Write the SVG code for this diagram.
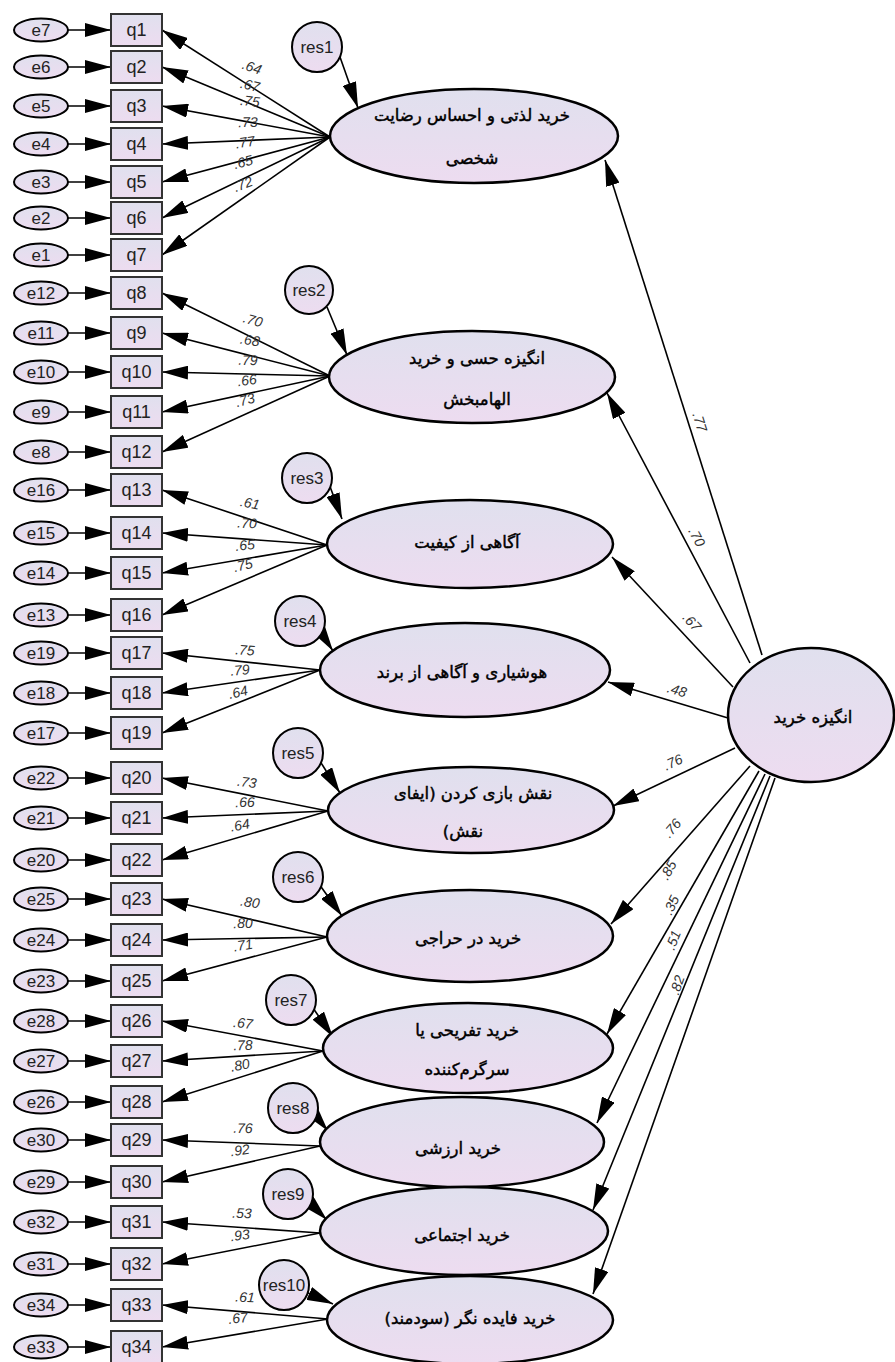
<svg xmlns="http://www.w3.org/2000/svg" width="895" height="1362" viewBox="0 0 895 1362">
<defs>
<linearGradient id="g" x1="0" y1="0" x2="0" y2="1"><stop offset="0" stop-color="#e0e0ee"/><stop offset="1" stop-color="#eddcf0"/></linearGradient>
<marker id="ah" markerUnits="userSpaceOnUse" markerWidth="26" markerHeight="14" refX="26" refY="7" orient="auto"><path d="M0,0 L26,7 L0,14 z" fill="#000"/></marker>
<style>
.lat{fill:url(#g);stroke:#000;stroke-width:2.5}
.obs{fill:url(#g);stroke:#333;stroke-width:2}
.err{fill:url(#g);stroke:#000;stroke-width:2}
.ln{stroke:#000;stroke-width:1.6;fill:none;marker-end:url(#ah)}
.t{font-family:"Liberation Sans",Arial,sans-serif;font-size:18px;fill:#222;text-anchor:middle;dominant-baseline:central}
.et{font-size:17px}
.ld{font-family:"Liberation Sans",Arial,sans-serif;font-size:14px;font-style:italic;fill:#333;text-anchor:middle;dominant-baseline:central}
.fa{font-family:"DejaVu Sans",sans-serif;font-size:16.5px;fill:#000;stroke:#000;stroke-width:0.45;text-anchor:middle;dominant-baseline:central;direction:rtl}
</style>
</defs>
<rect width="895" height="1362" fill="#fff"/>

<g id="connectors">
<line class="ln" x1="68" y1="30" x2="111" y2="30"/>
<line class="ln" x1="68" y1="67" x2="111" y2="67"/>
<line class="ln" x1="68" y1="106" x2="111" y2="106"/>
<line class="ln" x1="68" y1="144" x2="111" y2="144"/>
<line class="ln" x1="68" y1="182" x2="111" y2="182"/>
<line class="ln" x1="68" y1="218" x2="111" y2="218"/>
<line class="ln" x1="68" y1="255" x2="111" y2="255"/>
<line class="ln" x1="68" y1="293" x2="111" y2="293"/>
<line class="ln" x1="68" y1="333" x2="111" y2="333"/>
<line class="ln" x1="68" y1="372" x2="111" y2="372"/>
<line class="ln" x1="68" y1="412" x2="111" y2="412"/>
<line class="ln" x1="68" y1="452" x2="111" y2="452"/>
<line class="ln" x1="68" y1="490" x2="111" y2="490"/>
<line class="ln" x1="68" y1="533" x2="111" y2="533"/>
<line class="ln" x1="68" y1="573" x2="111" y2="573"/>
<line class="ln" x1="68" y1="615" x2="111" y2="615"/>
<line class="ln" x1="68" y1="653" x2="111" y2="653"/>
<line class="ln" x1="68" y1="693" x2="111" y2="693"/>
<line class="ln" x1="68" y1="733" x2="111" y2="733"/>
<line class="ln" x1="68" y1="778" x2="111" y2="778"/>
<line class="ln" x1="68" y1="818" x2="111" y2="818"/>
<line class="ln" x1="68" y1="860" x2="111" y2="860"/>
<line class="ln" x1="68" y1="899" x2="111" y2="899"/>
<line class="ln" x1="68" y1="940" x2="111" y2="940"/>
<line class="ln" x1="68" y1="981" x2="111" y2="981"/>
<line class="ln" x1="68" y1="1021" x2="111" y2="1021"/>
<line class="ln" x1="68" y1="1061" x2="111" y2="1061"/>
<line class="ln" x1="68" y1="1102" x2="111" y2="1102"/>
<line class="ln" x1="68" y1="1140" x2="111" y2="1140"/>
<line class="ln" x1="68" y1="1182" x2="111" y2="1182"/>
<line class="ln" x1="68" y1="1222" x2="111" y2="1222"/>
<line class="ln" x1="68" y1="1264" x2="111" y2="1264"/>
<line class="ln" x1="68" y1="1305" x2="111" y2="1305"/>
<line class="ln" x1="68" y1="1347" x2="111" y2="1347"/>
<line class="ln" x1="330" y1="137" x2="162" y2="30"/>
<line class="ln" x1="330" y1="137" x2="162" y2="67"/>
<line class="ln" x1="330" y1="137" x2="162" y2="106"/>
<line class="ln" x1="330" y1="137" x2="162" y2="144"/>
<line class="ln" x1="330" y1="137" x2="162" y2="182"/>
<line class="ln" x1="330" y1="137" x2="162" y2="218"/>
<line class="ln" x1="330" y1="137" x2="162" y2="255"/>
<line class="ln" x1="330" y1="376" x2="162" y2="293"/>
<line class="ln" x1="330" y1="376" x2="162" y2="333"/>
<line class="ln" x1="330" y1="376" x2="162" y2="372"/>
<line class="ln" x1="330" y1="376" x2="162" y2="412"/>
<line class="ln" x1="330" y1="376" x2="162" y2="452"/>
<line class="ln" x1="327" y1="545" x2="162" y2="490"/>
<line class="ln" x1="327" y1="545" x2="162" y2="533"/>
<line class="ln" x1="327" y1="545" x2="162" y2="573"/>
<line class="ln" x1="327" y1="545" x2="162" y2="615"/>
<line class="ln" x1="320" y1="670" x2="162" y2="653"/>
<line class="ln" x1="320" y1="670" x2="162" y2="693"/>
<line class="ln" x1="320" y1="670" x2="162" y2="733"/>
<line class="ln" x1="328" y1="811" x2="162" y2="778"/>
<line class="ln" x1="328" y1="811" x2="162" y2="818"/>
<line class="ln" x1="328" y1="811" x2="162" y2="860"/>
<line class="ln" x1="327" y1="937" x2="162" y2="899"/>
<line class="ln" x1="327" y1="937" x2="162" y2="940"/>
<line class="ln" x1="327" y1="937" x2="162" y2="981"/>
<line class="ln" x1="323" y1="1051" x2="162" y2="1021"/>
<line class="ln" x1="323" y1="1051" x2="162" y2="1061"/>
<line class="ln" x1="323" y1="1051" x2="162" y2="1102"/>
<line class="ln" x1="320" y1="1146" x2="162" y2="1140"/>
<line class="ln" x1="320" y1="1146" x2="162" y2="1182"/>
<line class="ln" x1="320" y1="1233" x2="162" y2="1222"/>
<line class="ln" x1="320" y1="1233" x2="162" y2="1264"/>
<line class="ln" x1="328" y1="1319" x2="162" y2="1305"/>
<line class="ln" x1="328" y1="1319" x2="162" y2="1347"/>
<line class="ln" x1="340" y1="57" x2="358" y2="108"/>
<line class="ln" x1="327" y1="307" x2="347" y2="355"/>
<line class="ln" x1="325" y1="473" x2="342" y2="519"/>
<line class="ln" x1="318" y1="628" x2="333" y2="651"/>
<line class="ln" x1="318" y1="758" x2="340" y2="793"/>
<line class="ln" x1="319" y1="884" x2="342" y2="916"/>
<line class="ln" x1="313" y1="1008" x2="333" y2="1037"/>
<line class="ln" x1="315" y1="1115" x2="328" y2="1131"/>
<line class="ln" x1="310" y1="1203" x2="327" y2="1220"/>
<line class="ln" x1="306" y1="1292" x2="333" y2="1304"/>
<line class="ln" x1="762" y1="655" x2="605" y2="160"/>
<line class="ln" x1="750" y1="663" x2="607" y2="393"/>
<line class="ln" x1="733" y1="687" x2="612" y2="557"/>
<line class="ln" x1="728" y1="718" x2="608" y2="682"/>
<line class="ln" x1="735" y1="748" x2="613" y2="806"/>
<line class="ln" x1="750" y1="766" x2="611" y2="924"/>
<line class="ln" x1="759" y1="771" x2="607" y2="1034"/>
<line class="ln" x1="765" y1="774" x2="597" y2="1123"/>
<line class="ln" x1="770" y1="776" x2="593" y2="1210"/>
<line class="ln" x1="775" y1="778" x2="593" y2="1294"/>
</g>

<g id="loadings">
<text class="ld" transform="translate(252,67) rotate(19)">.64</text>
<text class="ld" transform="translate(250,85) rotate(13)">.67</text>
<text class="ld" transform="translate(250,101) rotate(6)">.75</text>
<text class="ld" transform="translate(248,122) rotate(-1)">.73</text>
<text class="ld" transform="translate(245,142) rotate(-9)">.77</text>
<text class="ld" transform="translate(243,162) rotate(-15)">.65</text>
<text class="ld" transform="translate(243,184) rotate(-21)">.72</text>
<text class="ld" transform="translate(253,320) rotate(16)">.70</text>
<text class="ld" transform="translate(250,340) rotate(9)">.68</text>
<text class="ld" transform="translate(248,360) rotate(1)">.79</text>
<text class="ld" transform="translate(247,380) rotate(-7)">.66</text>
<text class="ld" transform="translate(245,400) rotate(-15)">.73</text>
<text class="ld" transform="translate(250,503) rotate(11)">.61</text>
<text class="ld" transform="translate(247,523) rotate(3)">.70</text>
<text class="ld" transform="translate(245,545) rotate(-6)">.65</text>
<text class="ld" transform="translate(243,565) rotate(-14)">.75</text>
<text class="ld" transform="translate(245,650) rotate(4)">.75</text>
<text class="ld" transform="translate(240,670) rotate(-5)">.79</text>
<text class="ld" transform="translate(238,692) rotate(-13)">.64</text>
<text class="ld" transform="translate(247,782) rotate(7)">.73</text>
<text class="ld" transform="translate(245,802) rotate(-1)">.66</text>
<text class="ld" transform="translate(240,825) rotate(-10)">.64</text>
<text class="ld" transform="translate(250,902) rotate(8)">.80</text>
<text class="ld" transform="translate(243,923) rotate(-1)">.80</text>
<text class="ld" transform="translate(243,945) rotate(-9)">.71</text>
<text class="ld" transform="translate(243,1023) rotate(6)">.67</text>
<text class="ld" transform="translate(243,1045) rotate(-2)">.78</text>
<text class="ld" transform="translate(240,1065) rotate(-11)">.80</text>
<text class="ld" transform="translate(243,1128) rotate(1)">.76</text>
<text class="ld" transform="translate(240,1150) rotate(-8)">.92</text>
<text class="ld" transform="translate(242,1213) rotate(2)">.53</text>
<text class="ld" transform="translate(240,1235) rotate(-7)">.93</text>
<text class="ld" transform="translate(245,1297) rotate(3)">.61</text>
<text class="ld" transform="translate(238,1318) rotate(-6)">.67</text>
<text class="ld" transform="translate(700,422) rotate(72)">.77</text>
<text class="ld" transform="translate(697,537) rotate(62)">.70</text>
<text class="ld" transform="translate(692,622) rotate(47)">.67</text>
<text class="ld" transform="translate(677,690) rotate(17)">.48</text>
<text class="ld" transform="translate(673,762) rotate(-25)">.76</text>
<text class="ld" transform="translate(672,828) rotate(-49)">.76</text>
<text class="ld" transform="translate(668,870) rotate(-60)">.85</text>
<text class="ld" transform="translate(671,905) rotate(-64)">.35</text>
<text class="ld" transform="translate(673,940) rotate(-68)">.51</text>
<text class="ld" transform="translate(677,985) rotate(-71)">.82</text>
</g>

<g id="e7"><ellipse class="err" cx="41" cy="30" rx="27" ry="11.5"/><text class="t et" x="41" y="30">e7</text></g>
<g id="q1"><rect class="obs" x="111" y="14" width="51" height="32"/><text class="t" x="136.5" y="30">q1</text></g>
<g id="e6"><ellipse class="err" cx="41" cy="67" rx="27" ry="11.5"/><text class="t et" x="41" y="67">e6</text></g>
<g id="q2"><rect class="obs" x="111" y="51" width="51" height="32"/><text class="t" x="136.5" y="67">q2</text></g>
<g id="e5"><ellipse class="err" cx="41" cy="106" rx="27" ry="11.5"/><text class="t et" x="41" y="106">e5</text></g>
<g id="q3"><rect class="obs" x="111" y="90" width="51" height="32"/><text class="t" x="136.5" y="106">q3</text></g>
<g id="e4"><ellipse class="err" cx="41" cy="144" rx="27" ry="11.5"/><text class="t et" x="41" y="144">e4</text></g>
<g id="q4"><rect class="obs" x="111" y="128" width="51" height="32"/><text class="t" x="136.5" y="144">q4</text></g>
<g id="e3"><ellipse class="err" cx="41" cy="182" rx="27" ry="11.5"/><text class="t et" x="41" y="182">e3</text></g>
<g id="q5"><rect class="obs" x="111" y="166" width="51" height="32"/><text class="t" x="136.5" y="182">q5</text></g>
<g id="e2"><ellipse class="err" cx="41" cy="218" rx="27" ry="11.5"/><text class="t et" x="41" y="218">e2</text></g>
<g id="q6"><rect class="obs" x="111" y="202" width="51" height="32"/><text class="t" x="136.5" y="218">q6</text></g>
<g id="e1"><ellipse class="err" cx="41" cy="255" rx="27" ry="11.5"/><text class="t et" x="41" y="255">e1</text></g>
<g id="q7"><rect class="obs" x="111" y="239" width="51" height="32"/><text class="t" x="136.5" y="255">q7</text></g>
<g id="e12"><ellipse class="err" cx="41" cy="293" rx="27" ry="11.5"/><text class="t et" x="41" y="293">e12</text></g>
<g id="q8"><rect class="obs" x="111" y="277" width="51" height="32"/><text class="t" x="136.5" y="293">q8</text></g>
<g id="e11"><ellipse class="err" cx="41" cy="333" rx="27" ry="11.5"/><text class="t et" x="41" y="333">e11</text></g>
<g id="q9"><rect class="obs" x="111" y="317" width="51" height="32"/><text class="t" x="136.5" y="333">q9</text></g>
<g id="e10"><ellipse class="err" cx="41" cy="372" rx="27" ry="11.5"/><text class="t et" x="41" y="372">e10</text></g>
<g id="q10"><rect class="obs" x="111" y="356" width="51" height="32"/><text class="t" x="136.5" y="372">q10</text></g>
<g id="e9"><ellipse class="err" cx="41" cy="412" rx="27" ry="11.5"/><text class="t et" x="41" y="412">e9</text></g>
<g id="q11"><rect class="obs" x="111" y="396" width="51" height="32"/><text class="t" x="136.5" y="412">q11</text></g>
<g id="e8"><ellipse class="err" cx="41" cy="452" rx="27" ry="11.5"/><text class="t et" x="41" y="452">e8</text></g>
<g id="q12"><rect class="obs" x="111" y="436" width="51" height="32"/><text class="t" x="136.5" y="452">q12</text></g>
<g id="e16"><ellipse class="err" cx="41" cy="490" rx="27" ry="11.5"/><text class="t et" x="41" y="490">e16</text></g>
<g id="q13"><rect class="obs" x="111" y="474" width="51" height="32"/><text class="t" x="136.5" y="490">q13</text></g>
<g id="e15"><ellipse class="err" cx="41" cy="533" rx="27" ry="11.5"/><text class="t et" x="41" y="533">e15</text></g>
<g id="q14"><rect class="obs" x="111" y="517" width="51" height="32"/><text class="t" x="136.5" y="533">q14</text></g>
<g id="e14"><ellipse class="err" cx="41" cy="573" rx="27" ry="11.5"/><text class="t et" x="41" y="573">e14</text></g>
<g id="q15"><rect class="obs" x="111" y="557" width="51" height="32"/><text class="t" x="136.5" y="573">q15</text></g>
<g id="e13"><ellipse class="err" cx="41" cy="615" rx="27" ry="11.5"/><text class="t et" x="41" y="615">e13</text></g>
<g id="q16"><rect class="obs" x="111" y="599" width="51" height="32"/><text class="t" x="136.5" y="615">q16</text></g>
<g id="e19"><ellipse class="err" cx="41" cy="653" rx="27" ry="11.5"/><text class="t et" x="41" y="653">e19</text></g>
<g id="q17"><rect class="obs" x="111" y="637" width="51" height="32"/><text class="t" x="136.5" y="653">q17</text></g>
<g id="e18"><ellipse class="err" cx="41" cy="693" rx="27" ry="11.5"/><text class="t et" x="41" y="693">e18</text></g>
<g id="q18"><rect class="obs" x="111" y="677" width="51" height="32"/><text class="t" x="136.5" y="693">q18</text></g>
<g id="e17"><ellipse class="err" cx="41" cy="733" rx="27" ry="11.5"/><text class="t et" x="41" y="733">e17</text></g>
<g id="q19"><rect class="obs" x="111" y="717" width="51" height="32"/><text class="t" x="136.5" y="733">q19</text></g>
<g id="e22"><ellipse class="err" cx="41" cy="778" rx="27" ry="11.5"/><text class="t et" x="41" y="778">e22</text></g>
<g id="q20"><rect class="obs" x="111" y="762" width="51" height="32"/><text class="t" x="136.5" y="778">q20</text></g>
<g id="e21"><ellipse class="err" cx="41" cy="818" rx="27" ry="11.5"/><text class="t et" x="41" y="818">e21</text></g>
<g id="q21"><rect class="obs" x="111" y="802" width="51" height="32"/><text class="t" x="136.5" y="818">q21</text></g>
<g id="e20"><ellipse class="err" cx="41" cy="860" rx="27" ry="11.5"/><text class="t et" x="41" y="860">e20</text></g>
<g id="q22"><rect class="obs" x="111" y="844" width="51" height="32"/><text class="t" x="136.5" y="860">q22</text></g>
<g id="e25"><ellipse class="err" cx="41" cy="899" rx="27" ry="11.5"/><text class="t et" x="41" y="899">e25</text></g>
<g id="q23"><rect class="obs" x="111" y="883" width="51" height="32"/><text class="t" x="136.5" y="899">q23</text></g>
<g id="e24"><ellipse class="err" cx="41" cy="940" rx="27" ry="11.5"/><text class="t et" x="41" y="940">e24</text></g>
<g id="q24"><rect class="obs" x="111" y="924" width="51" height="32"/><text class="t" x="136.5" y="940">q24</text></g>
<g id="e23"><ellipse class="err" cx="41" cy="981" rx="27" ry="11.5"/><text class="t et" x="41" y="981">e23</text></g>
<g id="q25"><rect class="obs" x="111" y="965" width="51" height="32"/><text class="t" x="136.5" y="981">q25</text></g>
<g id="e28"><ellipse class="err" cx="41" cy="1021" rx="27" ry="11.5"/><text class="t et" x="41" y="1021">e28</text></g>
<g id="q26"><rect class="obs" x="111" y="1005" width="51" height="32"/><text class="t" x="136.5" y="1021">q26</text></g>
<g id="e27"><ellipse class="err" cx="41" cy="1061" rx="27" ry="11.5"/><text class="t et" x="41" y="1061">e27</text></g>
<g id="q27"><rect class="obs" x="111" y="1045" width="51" height="32"/><text class="t" x="136.5" y="1061">q27</text></g>
<g id="e26"><ellipse class="err" cx="41" cy="1102" rx="27" ry="11.5"/><text class="t et" x="41" y="1102">e26</text></g>
<g id="q28"><rect class="obs" x="111" y="1086" width="51" height="32"/><text class="t" x="136.5" y="1102">q28</text></g>
<g id="e30"><ellipse class="err" cx="41" cy="1140" rx="27" ry="11.5"/><text class="t et" x="41" y="1140">e30</text></g>
<g id="q29"><rect class="obs" x="111" y="1124" width="51" height="32"/><text class="t" x="136.5" y="1140">q29</text></g>
<g id="e29"><ellipse class="err" cx="41" cy="1182" rx="27" ry="11.5"/><text class="t et" x="41" y="1182">e29</text></g>
<g id="q30"><rect class="obs" x="111" y="1166" width="51" height="32"/><text class="t" x="136.5" y="1182">q30</text></g>
<g id="e32"><ellipse class="err" cx="41" cy="1222" rx="27" ry="11.5"/><text class="t et" x="41" y="1222">e32</text></g>
<g id="q31"><rect class="obs" x="111" y="1206" width="51" height="32"/><text class="t" x="136.5" y="1222">q31</text></g>
<g id="e31"><ellipse class="err" cx="41" cy="1264" rx="27" ry="11.5"/><text class="t et" x="41" y="1264">e31</text></g>
<g id="q32"><rect class="obs" x="111" y="1248" width="51" height="32"/><text class="t" x="136.5" y="1264">q32</text></g>
<g id="e34"><ellipse class="err" cx="41" cy="1305" rx="27" ry="11.5"/><text class="t et" x="41" y="1305">e34</text></g>
<g id="q33"><rect class="obs" x="111" y="1289" width="51" height="32"/><text class="t" x="136.5" y="1305">q33</text></g>
<g id="e33"><ellipse class="err" cx="41" cy="1347" rx="27" ry="11.5"/><text class="t et" x="41" y="1347">e33</text></g>
<g id="q34"><rect class="obs" x="111" y="1331" width="51" height="32"/><text class="t" x="136.5" y="1347">q34</text></g>

<g id="res1"><circle class="err" cx="317" cy="47" r="25"/><text class="t et" x="317" y="47">res1</text></g>
<g id="res2"><circle class="err" cx="309" cy="290" r="24"/><text class="t et" x="309" y="290">res2</text></g>
<g id="res3"><circle class="err" cx="307" cy="478" r="25"/><text class="t et" x="307" y="478">res3</text></g>
<g id="res4"><circle class="err" cx="300" cy="621" r="25"/><text class="t et" x="300" y="621">res4</text></g>
<g id="res5"><circle class="err" cx="298" cy="753" r="25"/><text class="t et" x="298" y="753">res5</text></g>
<g id="res6"><circle class="err" cx="298" cy="877" r="25"/><text class="t et" x="298" y="877">res6</text></g>
<g id="res7"><circle class="err" cx="291" cy="1000" r="25"/><text class="t et" x="291" y="1000">res7</text></g>
<g id="res8"><circle class="err" cx="293" cy="1108" r="25"/><text class="t et" x="293" y="1108">res8</text></g>
<g id="res9"><circle class="err" cx="288" cy="1194" r="25"/><text class="t et" x="288" y="1194">res9</text></g>
<g id="res10"><circle class="err" cx="284" cy="1285" r="25"/><text class="t et" x="284" y="1285">res10</text></g>

<g id="F1"><ellipse class="lat" cx="474" cy="136" rx="144" ry="47"/><text class="fa" x="472" y="115">خرید لذتی و احساس رضایت</text><text class="fa" x="472" y="158">شخصی</text></g>
<g id="F2"><ellipse class="lat" cx="472" cy="377" rx="143" ry="46"/><text class="fa" x="477" y="358">انگیزه حسی و خرید</text><text class="fa" x="477" y="399">الهامبخش</text></g>
<g id="F3"><ellipse class="lat" cx="470" cy="544" rx="143" ry="44"/><text class="fa" x="467" y="542">آگاهی از کیفیت</text></g>
<g id="F4"><ellipse class="lat" cx="465" cy="670" rx="145" ry="47"/><text class="fa" x="462" y="672">هوشیاری و آگاهی از برند</text></g>
<g id="F5"><ellipse class="lat" cx="471" cy="810" rx="143" ry="43"/><text class="fa" x="473" y="793">نقش بازی کردن (ایفای</text><text class="fa" x="463" y="831">نقش)</text></g>
<g id="F6"><ellipse class="lat" cx="470" cy="936" rx="143" ry="46"/><text class="fa" x="468" y="938">خرید در حراجی</text></g>
<g id="F7"><ellipse class="lat" cx="468" cy="1048" rx="145" ry="45"/><text class="fa" x="467" y="1030">خرید تفریحی یا</text><text class="fa" x="467" y="1069">سرگرم‌کننده</text></g>
<g id="F8"><ellipse class="lat" cx="462" cy="1142" rx="142" ry="45"/><text class="fa" x="458" y="1148">خرید ارزشی</text></g>
<g id="F9"><ellipse class="lat" cx="464" cy="1231" rx="144" ry="44"/><text class="fa" x="462" y="1235">خرید اجتماعی</text></g>
<g id="F10"><ellipse class="lat" cx="470" cy="1320" rx="143" ry="44"/><text class="fa" x="470" y="1318">خرید فایده نگر (سودمند)</text></g>

<g id="F0"><ellipse class="lat" cx="811" cy="715" rx="83" ry="67"/><text class="fa" x="813" y="717">انگیزه خرید</text></g>
</svg>
